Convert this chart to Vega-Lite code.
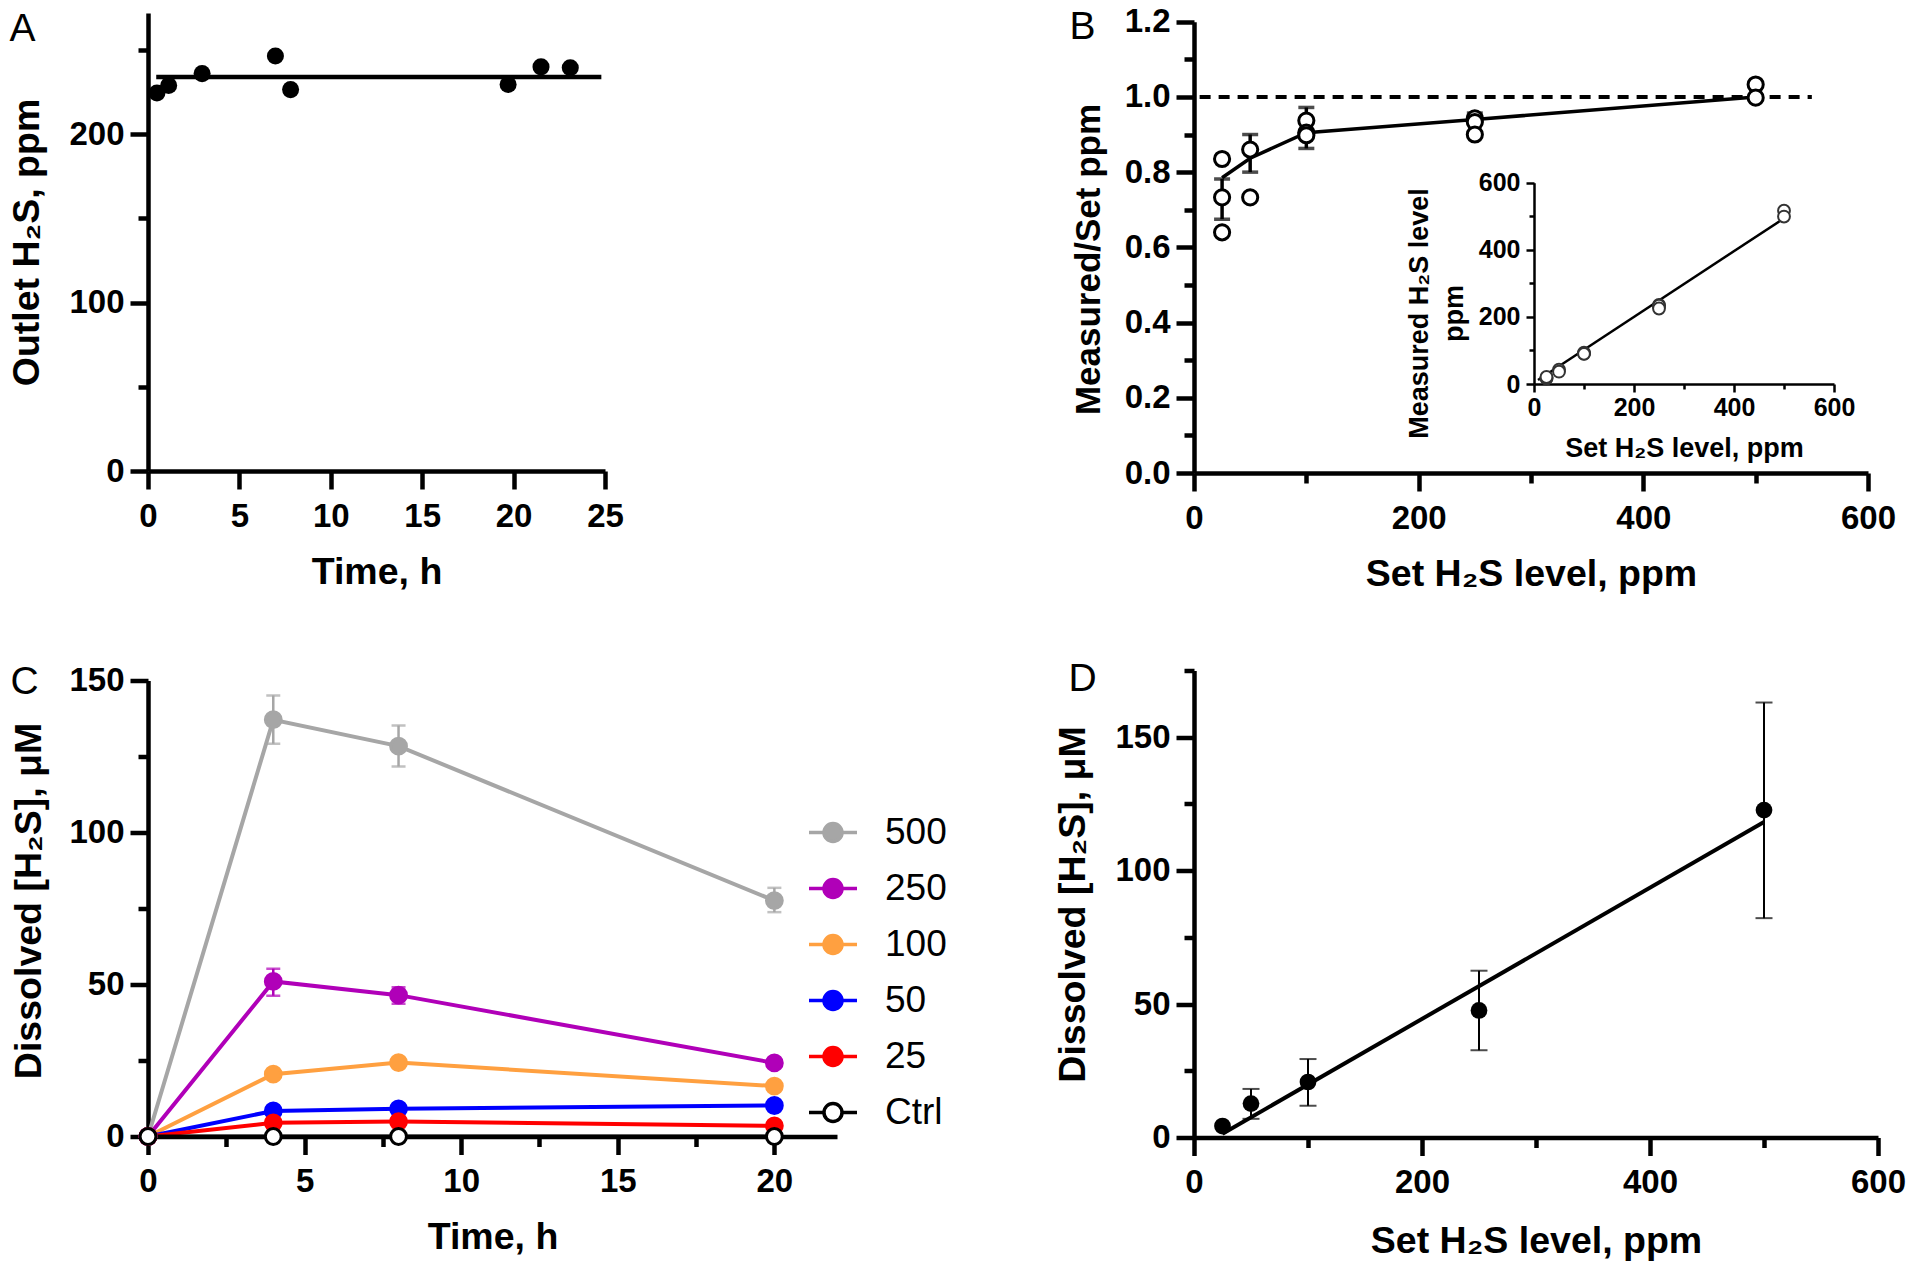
{
  "$schema": "https://vega.github.io/schema/vega-lite/v6.json",
  "background": "white",
  "padding": {"left": 7, "top": 5, "right": 5, "bottom": 5},
  "datasets": {
    "a_pts": [{"time_h":0.49,"ppm":224.5},{"time_h":1.13,"ppm":229},{"time_h":2.96,"ppm":236},{"time_h":6.97,"ppm":246.5},{"time_h":7.8,"ppm":226.5},{"time_h":19.7,"ppm":229.5},{"time_h":21.5,"ppm":240},{"time_h":23.1,"ppm":239.5}],
    "b_pts": [{"set_ppm":25,"ratio":0.64},{"set_ppm":25,"ratio":0.733},{"set_ppm":25,"ratio":0.835},{"set_ppm":50,"ratio":0.86},{"set_ppm":50,"ratio":0.733},{"set_ppm":100,"ratio":0.937},{"set_ppm":100,"ratio":0.905},{"set_ppm":100,"ratio":0.898},{"set_ppm":250,"ratio":0.943},{"set_ppm":250,"ratio":0.933},{"set_ppm":250,"ratio":0.9},{"set_ppm":500,"ratio":1.033},{"set_ppm":500,"ratio":0.998}],
    "b_line": [{"set_ppm":25,"ratio":0.785},{"set_ppm":50,"ratio":0.837},{"set_ppm":100,"ratio":0.905},{"set_ppm":250,"ratio":0.94},{"set_ppm":500,"ratio":1.0}],
    "b_err": [{"set_ppm":25,"lo":0.675,"hi":0.782},{"set_ppm":50,"lo":0.8,"hi":0.9},{"set_ppm":100,"lo":0.863,"hi":0.972},{"set_ppm":250,"lo":0.905,"hi":0.957}],
    "inset_pts": [{"set_ppm":25,"measured":16},{"set_ppm":25,"measured":18.3},{"set_ppm":25,"measured":20.9},{"set_ppm":50,"measured":43},{"set_ppm":50,"measured":36.7},{"set_ppm":100,"measured":93.7},{"set_ppm":100,"measured":90.5},{"set_ppm":100,"measured":89.8},{"set_ppm":250,"measured":235.8},{"set_ppm":250,"measured":233.3},{"set_ppm":250,"measured":225},{"set_ppm":500,"measured":516.5},{"set_ppm":500,"measured":499}],
    "c_lines": [
      {"series":"500","time_h":0,"h2s_uM":0},{"series":"500","time_h":4,"h2s_uM":137.1},{"series":"500","time_h":8,"h2s_uM":128.4},{"series":"500","time_h":20,"h2s_uM":77.6},
      {"series":"250","time_h":0,"h2s_uM":0},{"series":"250","time_h":4,"h2s_uM":51},{"series":"250","time_h":8,"h2s_uM":46.5},{"series":"250","time_h":20,"h2s_uM":24.2},
      {"series":"100","time_h":0,"h2s_uM":0},{"series":"100","time_h":4,"h2s_uM":20.5},{"series":"100","time_h":8,"h2s_uM":24.3},{"series":"100","time_h":20,"h2s_uM":16.6},
      {"series":"50","time_h":0,"h2s_uM":0},{"series":"50","time_h":4,"h2s_uM":8.4},{"series":"50","time_h":8,"h2s_uM":9.1},{"series":"50","time_h":20,"h2s_uM":10.2},
      {"series":"25","time_h":0,"h2s_uM":0},{"series":"25","time_h":4,"h2s_uM":4.5},{"series":"25","time_h":8,"h2s_uM":4.9},{"series":"25","time_h":20,"h2s_uM":3.5},
      {"series":"Ctrl","time_h":0,"h2s_uM":0},{"series":"Ctrl","time_h":4,"h2s_uM":0},{"series":"Ctrl","time_h":8,"h2s_uM":0},{"series":"Ctrl","time_h":20,"h2s_uM":0}
    ],
    "c_err": [{"series":"500","time_h":4,"lo":129.2,"hi":145.1},{"series":"500","time_h":8,"lo":121.7,"hi":135.2},{"series":"500","time_h":20,"lo":73.8,"hi":81.8},{"series":"250","time_h":4,"lo":46.3,"hi":55.2},{"series":"250","time_h":8,"lo":43.7,"hi":49.1}],
    "d_pts": [{"set_ppm":25,"h2s_uM":4.3},{"set_ppm":50,"h2s_uM":12.7},{"set_ppm":100,"h2s_uM":20.8},{"set_ppm":250,"h2s_uM":47.6},{"set_ppm":500,"h2s_uM":122.7}],
    "d_err": [{"set_ppm":50,"lo":7,"hi":18.2},{"set_ppm":100,"lo":11.9,"hi":29.4},{"set_ppm":250,"lo":32.7,"hi":62.5},{"set_ppm":500,"lo":82.2,"hi":163}]
  },
  "columns": 2,
  "spacing": {"row": 65.5, "column": 106},
  "align": {"row": "none", "column": "each"},
  "resolve": {"scale": {"fill": "independent", "stroke": "independent"}},
  "concat": [
    {
      "width": 457, "height": 458,
      "layer": [
        {
          "data": {"values": [{"t_start": 0.45, "t_end": 24.8, "ppm": 234}]},
          "mark": {"type": "rule", "color": "#000", "strokeWidth": 4.5},
          "encoding": {
            "x": {"field": "t_start", "type": "quantitative", "scale": {"domain": [0, 25], "nice": false, "zero": false},
                  "axis": {"orient": "bottom", "values": [0, 5, 10, 15, 20, 25], "title": "Time, h", "titleY": 82}},
            "x2": {"field": "t_end"},
            "y": {"field": "ppm", "type": "quantitative", "scale": {"domain": [0, 272], "nice": false, "zero": false},
                  "axis": {"orient": "left", "values": [0, 100, 200], "title": "Outlet H₂S, ppm", "titleX": -102}}
          }
        },
        {
          "data": {"name": "a_pts"},
          "mark": {"type": "circle", "size": 290, "color": "#000", "opacity": 1},
          "encoding": {
            "x": {"field": "time_h", "type": "quantitative", "axis": null},
            "y": {"field": "ppm", "type": "quantitative",
                  "axis": {"orient": "left", "values": [50, 150, 250], "labels": false, "domain": false, "tickSize": 10,
                           "title": "A", "titleAngle": 0, "titleAlign": "left", "titleBaseline": "alphabetic", "titleX": -139, "titleY": 27, "titleFontSize": 39, "titleFontWeight": "normal"}}
          }
        }
      ],
      "resolve": {"axis": {"x": "independent", "y": "independent"}}
    },
    {
      "width": 674, "height": 460,
      "layer": [
        {
          "layer": [
            {
              "data": {"values": [{"x_start": 5, "x_end": 550, "ratio": 1}]},
              "mark": {"type": "rule", "color": "#000", "strokeWidth": 4, "strokeDash": [11, 8]},
              "encoding": {
                "x": {"field": "x_start", "type": "quantitative", "scale": {"domain": [0, 600], "nice": false, "zero": false},
                      "axis": {"orient": "bottom", "values": [0, 200, 400, 600], "title": "Set H₂S level, ppm", "titleY": 82}},
                "x2": {"field": "x_end"},
                "y": {"field": "ratio", "type": "quantitative", "scale": {"domain": [0, 1.2], "range": [460, 8.7], "nice": false, "zero": false},
                      "axis": {"orient": "left", "values": [0, 0.2, 0.4, 0.6, 0.8, 1.0, 1.2], "format": ".1f", "title": "Measured/Set ppm", "titleX": -88, "titleY": 246, "titleFontSize": 35}}
              }
            },
            {
              "data": {"name": "b_line"},
              "mark": {"type": "line", "color": "#000", "strokeWidth": 3.5},
              "encoding": {
                "x": {"field": "set_ppm", "type": "quantitative",
                      "axis": {"orient": "bottom", "values": [100, 300, 500], "labels": false, "domain": false, "tickSize": 10, "title": null}},
                "y": {"field": "ratio", "type": "quantitative",
                      "axis": {"orient": "left", "values": [0.1, 0.3, 0.5, 0.7, 0.9, 1.1], "labels": false, "domain": false, "tickSize": 10,
                               "title": "B", "titleAngle": 0, "titleAlign": "left", "titleBaseline": "alphabetic", "titleX": -125, "titleY": 25.3, "titleFontSize": 39, "titleFontWeight": "normal"}}
              }
            },
            {
              "data": {"name": "b_err"},
              "mark": {"type": "rule", "color": "#000", "strokeWidth": 3.5},
              "encoding": {
                "x": {"field": "set_ppm", "type": "quantitative", "axis": null},
                "y": {"field": "lo", "type": "quantitative", "axis": null},
                "y2": {"field": "hi"}
              }
            },
            {
              "data": {"name": "b_err"},
              "mark": {"type": "tick", "orient": "horizontal", "color": "#000", "size": 16, "thickness": 3.5},
              "encoding": {
                "x": {"field": "set_ppm", "type": "quantitative", "axis": null},
                "y": {"field": "lo", "type": "quantitative", "axis": null}
              }
            },
            {
              "data": {"name": "b_err"},
              "mark": {"type": "tick", "orient": "horizontal", "color": "#000", "size": 16, "thickness": 3.5},
              "encoding": {
                "x": {"field": "set_ppm", "type": "quantitative", "axis": null},
                "y": {"field": "hi", "type": "quantitative", "axis": null}
              }
            },
            {
              "data": {"name": "b_pts"},
              "mark": {"type": "point", "shape": "circle", "fill": "#fff", "stroke": "#000", "strokeWidth": 3, "size": 230, "opacity": 1},
              "encoding": {
                "x": {"field": "set_ppm", "type": "quantitative", "axis": null},
                "y": {"field": "ratio", "type": "quantitative", "axis": null}
              }
            }
          ],
          "resolve": {"axis": {"x": "independent", "y": "independent"}}
        },
        {
          "layer": [
            {
              "data": {"values": [{"x_start": 8, "x_end": 500, "y_start": 12, "y_end": 494}]},
              "mark": {"type": "rule", "color": "#000", "strokeWidth": 2.5},
              "encoding": {
                "x": {"field": "x_start", "type": "quantitative", "scale": {"domain": [0, 600], "range": [340, 640], "nice": false, "zero": false},
                      "axis": {"orient": "bottom", "offset": -89, "values": [0, 200, 400, 600], "title": "Set H₂S level, ppm", "titleY": 51,
                               "domainWidth": 2.5, "tickWidth": 2.5, "tickSize": 8, "labelFontSize": 25, "labelPadding": 3, "titleFontSize": 27}},
                "x2": {"field": "x_end"},
                "y": {"field": "y_start", "type": "quantitative", "scale": {"domain": [0, 600], "range": [371, 169.7], "nice": false, "zero": false},
                      "axis": {"orient": "left", "offset": -340, "values": [0, 200, 400, 600], "title": ["Measured H₂S level", "ppm"],
                               "titleX": -101, "titleY": 300, "titleLineHeight": 35,
                               "domainWidth": 2.5, "tickWidth": 2.5, "tickSize": 8, "labelFontSize": 25, "labelPadding": 6, "titleFontSize": 27}},
                "y2": {"field": "y_end"}
              }
            },
            {
              "data": {"name": "inset_pts"},
              "mark": {"type": "point", "shape": "circle", "fill": "#fff", "stroke": "#333", "strokeWidth": 2, "size": 140, "opacity": 1},
              "encoding": {
                "x": {"field": "set_ppm", "type": "quantitative",
                      "axis": {"orient": "bottom", "offset": -89, "values": [100, 300, 500], "labels": false, "domain": false, "tickSize": 5, "tickWidth": 2.5, "title": null}},
                "y": {"field": "measured", "type": "quantitative",
                      "axis": {"orient": "left", "offset": -340, "values": [100, 300, 500], "labels": false, "domain": false, "tickSize": 5, "tickWidth": 2.5, "title": null}}
              }
            }
          ],
          "resolve": {"axis": {"x": "independent", "y": "independent"}}
        }
      ],
      "resolve": {"scale": {"x": "independent", "y": "independent"}}
    },
    {
      "width": 689, "height": 456,
      "layer": [
        {
          "data": {"name": "c_lines"},
          "mark": {"type": "line", "strokeWidth": 4},
          "encoding": {
            "x": {"field": "time_h", "type": "quantitative", "scale": {"domain": [0, 22], "nice": false, "zero": false},
                  "axis": {"orient": "bottom", "values": [0, 5, 10, 15, 20], "title": "Time, h", "titleY": 82}},
            "y": {"field": "h2s_uM", "type": "quantitative", "scale": {"domain": [0, 150], "nice": false, "zero": false},
                  "axis": {"orient": "left", "values": [0, 50, 100, 150], "title": "Dissolved [H₂S], μM", "titleX": -100, "titleY": 220}},
            "stroke": {"field": "series", "type": "nominal",
                       "scale": {"domain": ["500", "250", "100", "50", "25", "Ctrl"], "range": ["#a6a6a6", "#b000b8", "#ffa040", "#0000ff", "#ff0000", "#000000"]},
                       "legend": {"title": null, "orient": "none", "legendX": 659, "legendY": 126, "symbolType": "M-1,0L-0.375,0M0.375,0L1,0M-0.375,0A0.375,0.375,0,1,0,0.375,0A0.375,0.375,0,1,0,-0.375,0", "symbolSize": 2304, "symbolStrokeWidth": 3.5, "labelFont": "Liberation Sans", "labelFontSize": 37, "labelFontWeight": "normal", "labelColor": "#000", "labelOffset": 26, "rowPadding": 12, "padding": 0, "offset": 0}}
          }
        },
        {
          "data": {"name": "c_err"},
          "mark": {"type": "rule", "strokeWidth": 2.5},
          "encoding": {
            "x": {"field": "time_h", "type": "quantitative", "axis": null},
            "y": {"field": "lo", "type": "quantitative", "axis": null},
            "y2": {"field": "hi"},
            "stroke": {"field": "series", "type": "nominal",
                       "legend": {"title": null, "orient": "none", "legendX": 659, "legendY": 126, "symbolType": "M-1,0L-0.375,0M0.375,0L1,0M-0.375,0A0.375,0.375,0,1,0,0.375,0A0.375,0.375,0,1,0,-0.375,0", "symbolSize": 2304, "symbolStrokeWidth": 3.5, "labelFont": "Liberation Sans", "labelFontSize": 37, "labelFontWeight": "normal", "labelColor": "#000", "labelOffset": 26, "rowPadding": 12, "padding": 0, "offset": 0}}
          }
        },
        {
          "data": {"name": "c_err"},
          "mark": {"type": "tick", "orient": "horizontal", "size": 14, "thickness": 2.5},
          "encoding": {
            "x": {"field": "time_h", "type": "quantitative", "axis": null},
            "y": {"field": "lo", "type": "quantitative", "axis": null},
            "fill": {"field": "series", "type": "nominal",
                     "scale": {"domain": ["500", "250", "100", "50", "25", "Ctrl"], "range": ["#a6a6a6", "#b000b8", "#ffa040", "#0000ff", "#ff0000", "#ffffff"]},
                     "legend": {"title": null, "orient": "none", "legendX": 659, "legendY": 126, "symbolType": "M-1,0L-0.375,0M0.375,0L1,0M-0.375,0A0.375,0.375,0,1,0,0.375,0A0.375,0.375,0,1,0,-0.375,0", "symbolSize": 2304, "symbolStrokeWidth": 3.5, "labelFont": "Liberation Sans", "labelFontSize": 37, "labelFontWeight": "normal", "labelColor": "#000", "labelOffset": 26, "rowPadding": 12, "padding": 0, "offset": 0}}
          }
        },
        {
          "data": {"name": "c_err"},
          "mark": {"type": "tick", "orient": "horizontal", "size": 14, "thickness": 2.5},
          "encoding": {
            "x": {"field": "time_h", "type": "quantitative", "axis": null},
            "y": {"field": "hi", "type": "quantitative", "axis": null},
            "fill": {"field": "series", "type": "nominal",
                     "legend": {"title": null, "orient": "none", "legendX": 659, "legendY": 126, "symbolType": "M-1,0L-0.375,0M0.375,0L1,0M-0.375,0A0.375,0.375,0,1,0,0.375,0A0.375,0.375,0,1,0,-0.375,0", "symbolSize": 2304, "symbolStrokeWidth": 3.5, "labelFont": "Liberation Sans", "labelFontSize": 37, "labelFontWeight": "normal", "labelColor": "#000", "labelOffset": 26, "rowPadding": 12, "padding": 0, "offset": 0}}
          }
        },
        {
          "data": {"name": "c_lines"},
          "mark": {"type": "point", "shape": "circle", "filled": true, "size": 250, "strokeWidth": 3, "opacity": 1},
          "encoding": {
            "x": {"field": "time_h", "type": "quantitative",
                  "axis": {"orient": "bottom", "values": [2.5, 7.5, 12.5, 17.5], "labels": false, "domain": false, "tickSize": 10, "title": null}},
            "y": {"field": "h2s_uM", "type": "quantitative",
                  "axis": {"orient": "left", "values": [25, 75, 125], "labels": false, "domain": false, "tickSize": 10,
                           "title": ["", "C"], "titleAngle": 0, "titleAlign": "left", "titleBaseline": "alphabetic", "titleX": -138, "titleY": 9.9, "titleLineHeight": 2.6, "titleFontSize": 39, "titleFontWeight": "normal"}},
            "fill": {"field": "series", "type": "nominal",
                     "legend": {"title": null, "orient": "none", "legendX": 659, "legendY": 126, "symbolType": "M-1,0L-0.375,0M0.375,0L1,0M-0.375,0A0.375,0.375,0,1,0,0.375,0A0.375,0.375,0,1,0,-0.375,0", "symbolSize": 2304, "symbolStrokeWidth": 3.5, "labelFont": "Liberation Sans", "labelFontSize": 37, "labelFontWeight": "normal", "labelColor": "#000", "labelOffset": 26, "rowPadding": 12, "padding": 0, "offset": 0}},
            "stroke": {"field": "series", "type": "nominal",
                       "legend": {"title": null, "orient": "none", "legendX": 659, "legendY": 126, "symbolType": "M-1,0L-0.375,0M0.375,0L1,0M-0.375,0A0.375,0.375,0,1,0,0.375,0A0.375,0.375,0,1,0,-0.375,0", "symbolSize": 2304, "symbolStrokeWidth": 3.5, "labelFont": "Liberation Sans", "labelFontSize": 37, "labelFontWeight": "normal", "labelColor": "#000", "labelOffset": 26, "rowPadding": 12, "padding": 0, "offset": 0}}
          }
        }
      ],
      "resolve": {"axis": {"x": "independent", "y": "independent"}}
    },
    {
      "width": 684, "height": 467,
      "layer": [
        {
          "data": {"values": [{"x_start": 25, "x_end": 500, "y_start": 1.4, "y_end": 118.2}]},
          "mark": {"type": "rule", "color": "#000", "strokeWidth": 4},
          "encoding": {
            "x": {"field": "x_start", "type": "quantitative", "scale": {"domain": [0, 600], "nice": false, "zero": false},
                  "axis": {"orient": "bottom", "values": [0, 200, 400, 600], "title": "Set H₂S level, ppm", "titleY": 85}},
            "x2": {"field": "x_end"},
            "y": {"field": "y_start", "type": "quantitative", "scale": {"domain": [0, 175], "nice": false, "zero": false},
                  "axis": {"orient": "left", "values": [0, 50, 100, 150], "title": "Dissolved [H₂S], μM", "titleX": -102}},
            "y2": {"field": "y_end"}
          }
        },
        {
          "data": {"name": "d_err"},
          "mark": {"type": "rule", "color": "#000", "strokeWidth": 2},
          "encoding": {
            "x": {"field": "set_ppm", "type": "quantitative", "axis": null},
            "y": {"field": "lo", "type": "quantitative", "axis": null},
            "y2": {"field": "hi"}
          }
        },
        {
          "data": {"name": "d_err"},
          "mark": {"type": "tick", "orient": "horizontal", "color": "#000", "size": 17, "thickness": 2},
          "encoding": {
            "x": {"field": "set_ppm", "type": "quantitative", "axis": null},
            "y": {"field": "lo", "type": "quantitative", "axis": null}
          }
        },
        {
          "data": {"name": "d_err"},
          "mark": {"type": "tick", "orient": "horizontal", "color": "#000", "size": 17, "thickness": 2},
          "encoding": {
            "x": {"field": "set_ppm", "type": "quantitative", "axis": null},
            "y": {"field": "hi", "type": "quantitative", "axis": null}
          }
        },
        {
          "data": {"name": "d_pts"},
          "mark": {"type": "circle", "size": 280, "color": "#000", "opacity": 1},
          "encoding": {
            "x": {"field": "set_ppm", "type": "quantitative",
                  "axis": {"orient": "bottom", "values": [100, 300, 500], "labels": false, "domain": false, "tickSize": 10, "title": null}},
            "y": {"field": "h2s_uM", "type": "quantitative",
                  "axis": {"orient": "left", "values": [25, 75, 125, 175], "labels": false, "domain": false, "tickSize": 10,
                           "title": "D", "titleAngle": 0, "titleAlign": "left", "titleBaseline": "alphabetic", "titleX": -126, "titleY": 19.5, "titleFontSize": 39, "titleFontWeight": "normal"}}
          }
        }
      ],
      "resolve": {"axis": {"x": "independent", "y": "independent"}}
    }
  ],
  "config": {
    "view": {"stroke": null},
    "font": "Liberation Sans",
    "axis": {"grid": false, "domainColor": "#000", "domainWidth": 4.5, "tickColor": "#000", "tickWidth": 4.5, "tickSize": 18,
             "labelFont": "Liberation Sans", "labelFontSize": 33, "labelFontWeight": "bold", "labelColor": "#000",
             "labelFlush": false, "labelOverlap": false,
             "titleFont": "Liberation Sans", "titleFontSize": 37.5, "titleFontWeight": "bold", "titleColor": "#000"},
    "axisX": {"labelPadding": 11},
    "axisY": {"labelPadding": 6}
  }
}
